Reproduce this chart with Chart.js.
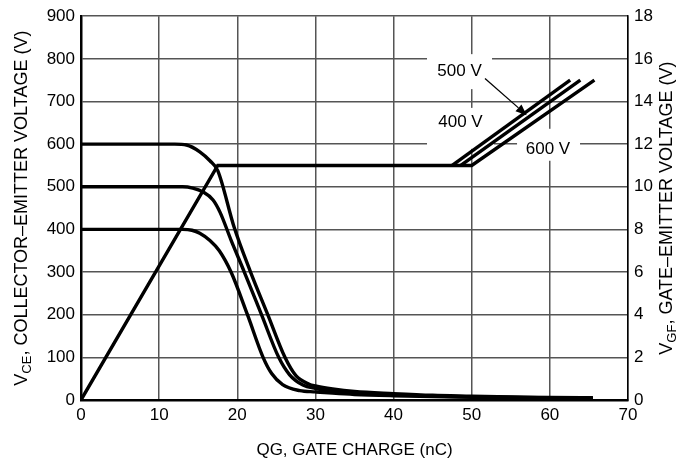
<!DOCTYPE html>
<html>
<head>
<meta charset="utf-8">
<script src="https://cdn.jsdelivr.net/npm/chart.js@4.4.1/dist/chart.umd.min.js"></script>
<style>
html,body{margin:0;padding:0;background:#fff;}
#wrap{width:681px;height:460px;}
</style>
</head>
<body>
<div id="wrap"><canvas id="c" width="681" height="460"></canvas></div>
<script>
// ---- data ----
// Collector-emitter voltage curves (left axis, V) vs gate charge (nC)
const qg600  = [0, 12, 13.5, 15.2, 16.5, 17.5, 19.6, 21.7, 23.9, 26.1, 27.5, 29.2, 30, 32.2, 35, 40, 45, 50, 55, 60, 65.5];
const vce600 = [600, 600, 598, 582, 561, 538, 405, 300, 200, 100, 57, 37, 33, 26, 20, 15, 11, 9, 7, 6, 5];
const qg500  = [0, 13, 14.3, 15.6, 16.9, 17.8, 19.2, 20.9, 23.1, 25.3, 26.7, 28.4, 30, 32.2, 35, 40, 45, 50, 55, 60, 65.5];
const vce500 = [500, 500, 497, 488, 469, 440, 375, 300, 200, 100, 59, 35, 27, 21, 16, 12, 9, 7.5, 6.5, 5.5, 5];
const qg400  = [0, 13, 14.2, 15.2, 16.5, 17.7, 19.2, 21.3, 23.3, 24.4, 25.8, 28, 30, 32.2, 35, 40, 45, 50, 55, 60, 65.5];
const vce400 = [400, 400, 398, 391, 374, 350, 300, 200, 100, 62, 36, 22, 19, 16, 13, 10, 8, 6.5, 5.5, 5, 5];
// Gate-emitter voltage (right axis, V) vs gate charge (nC)
const gateQ600 = [0, 17.5, 50, 65.7];
const gateV600 = [0, 11, 11, 15];
const gateQ500 = [48.6, 63.9];
const gateV500 = [11, 15];
const gateQ400 = [47.5, 62.6];
const gateV400 = [11, 15];
// axis ranges / ticks
const xRange  = [0, 70, 10];
const yRange  = [0, 900, 100];
const y1Range = [0, 18, 2];
// curve labels
const curveLabels = ['500 V', '400 V', '600 V'];

const FONT = '"Liberation Sans", Arial, Helvetica, sans-serif';
const pts = (xs, ys) => xs.map((x, i) => ({x: x, y: ys[i]}));

const vceStyle = {borderColor: '#000', borderWidth: 3.4, pointRadius: 0, fill: false,
  cubicInterpolationMode: 'monotone', yAxisID: 'y'};
const gateStyle = {borderColor: '#000', borderWidth: 3.4, pointRadius: 0, fill: false,
  tension: 0, yAxisID: 'y1', borderJoinStyle: 'miter'};

// annotation layout (data coordinates on x / left y axis)
const annots = [
  {text: curveLabels[0], q: 48.44, v: 770, box: [44.28, 52.6, 811, 729]},
  {text: curveLabels[1], q: 48.56, v: 651, box: [44.28, 52.85, 685, 589]},
  {text: curveLabels[2], q: 59.76, v: 588, box: [55.8, 63.86, 636, 561]}
];
const arrowFrom = [51.7, 754];
const arrowTo = [57.04, 668];

function drawRich(ctx, segs, cx, cy, rotate) {
  ctx.save();
  ctx.translate(cx, cy);
  if (rotate) ctx.rotate(-Math.PI / 2);
  let total = 0;
  segs.forEach(s => { ctx.font = s.size + 'px ' + FONT; s.w = ctx.measureText(s.t).width; total += s.w; });
  let x = -total / 2;
  ctx.textBaseline = 'alphabetic';
  ctx.textAlign = 'left';
  ctx.fillStyle = '#000';
  segs.forEach(s => { ctx.font = s.size + 'px ' + FONT; ctx.fillText(s.t, x, s.dy || 0); x += s.w; });
  ctx.restore();
}

const boxPlugin = {
  id: 'boxes',
  beforeDatasetsDraw(chart) {
    const {ctx, scales: {x, y}} = chart;
    ctx.save();
    ctx.fillStyle = '#fff';
    annots.forEach(a => {
      const x0 = x.getPixelForValue(a.box[0]), x1 = x.getPixelForValue(a.box[1]);
      const y0 = y.getPixelForValue(a.box[2]), y1 = y.getPixelForValue(a.box[3]);
      ctx.fillRect(x0, y0, x1 - x0, y1 - y0);
    });
    ctx.restore();
  },
  afterDatasetsDraw(chart) {
    const {ctx, scales: {x, y}} = chart;
    ctx.save();
    ctx.fillStyle = '#000';
    ctx.font = '17px ' + FONT;
    ctx.textAlign = 'center';
    ctx.textBaseline = 'middle';
    annots.forEach(a => ctx.fillText(a.text, x.getPixelForValue(a.q), y.getPixelForValue(a.v)));
    // arrow
    const ax = x.getPixelForValue(arrowFrom[0]), ay = y.getPixelForValue(arrowFrom[1]);
    const bx = x.getPixelForValue(arrowTo[0]), by = y.getPixelForValue(arrowTo[1]);
    const ang = Math.atan2(by - ay, bx - ax);
    const L = 11, W = 4.5;
    const hx = bx - L * Math.cos(ang), hy = by - L * Math.sin(ang);
    ctx.strokeStyle = '#000';
    ctx.lineWidth = 1.3;
    ctx.beginPath(); ctx.moveTo(ax, ay); ctx.lineTo(hx, hy); ctx.stroke();
    ctx.beginPath();
    ctx.moveTo(bx, by);
    ctx.lineTo(hx + W * Math.sin(ang), hy - W * Math.cos(ang));
    ctx.lineTo(hx - W * Math.sin(ang), hy + W * Math.cos(ang));
    ctx.closePath(); ctx.fill();
    ctx.restore();
  },
  afterDraw(chart) {
    const {ctx, chartArea} = chart;
    const cy = (chartArea.top + chartArea.bottom) / 2;
    drawRich(ctx, [{t: 'V', size: 18}, {t: 'CE', size: 13, dy: 4}, {t: ', COLLECTOR\u2013EMITTER VOLTAGE (V)', size: 18}], 27, cy, true);
    drawRich(ctx, [{t: 'V', size: 18}, {t: 'GF', size: 13, dy: 4}, {t: ', GATE\u2013EMITTER VOLTAGE (V)', size: 18}], 672, cy, true);
    drawRich(ctx, [{t: 'QG, GATE CHARGE (nC)', size: 17}], (chartArea.left + chartArea.right) / 2, 455, false);
  }
};

const gridColor = '#555';

new Chart(document.getElementById('c'), {
  type: 'line',
  data: {
    datasets: [
      Object.assign({data: pts(qg600, vce600)}, vceStyle),
      Object.assign({data: pts(qg500, vce500)}, vceStyle),
      Object.assign({data: pts(qg400, vce400)}, vceStyle),
      Object.assign({data: pts(gateQ600, gateV600)}, gateStyle),
      Object.assign({data: pts(gateQ500, gateV500)}, gateStyle),
      Object.assign({data: pts(gateQ400, gateV400)}, gateStyle)
    ]
  },
  options: {
    responsive: false,
    animation: false,
    events: [],
    layout: {padding: {top: 15, left: 0, right: 0, bottom: 0}},
    plugins: {legend: {display: false}, tooltip: {enabled: false}, title: {display: false}},
    scales: {
      x: {
        type: 'linear', min: xRange[0], max: xRange[1],
        ticks: {stepSize: xRange[2], color: '#000', font: {family: FONT, size: 17}, padding: 5, maxRotation: 0},
        grid: {color: gridColor, lineWidth: 1.5, drawTicks: false},
        border: {color: '#000', width: 2.5},
        afterFit: s => { s.height = 60; }
      },
      y: {
        position: 'left', min: yRange[0], max: yRange[1],
        ticks: {stepSize: yRange[2], color: '#000', font: {family: FONT, size: 17}, padding: 6},
        grid: {color: gridColor, lineWidth: 1.5, drawTicks: false},
        border: {color: '#000', width: 2.5},
        afterFit: s => { s.width = 81; }
      },
      y1: {
        position: 'right', min: y1Range[0], max: y1Range[1],
        ticks: {stepSize: y1Range[2], color: '#000', font: {family: FONT, size: 17}, padding: 6},
        grid: {drawOnChartArea: false, drawTicks: false},
        border: {color: '#000', width: 1.5},
        afterFit: s => { s.width = 53; }
      }
    }
  },
  plugins: [boxPlugin]
});
</script>
</body>
</html>
